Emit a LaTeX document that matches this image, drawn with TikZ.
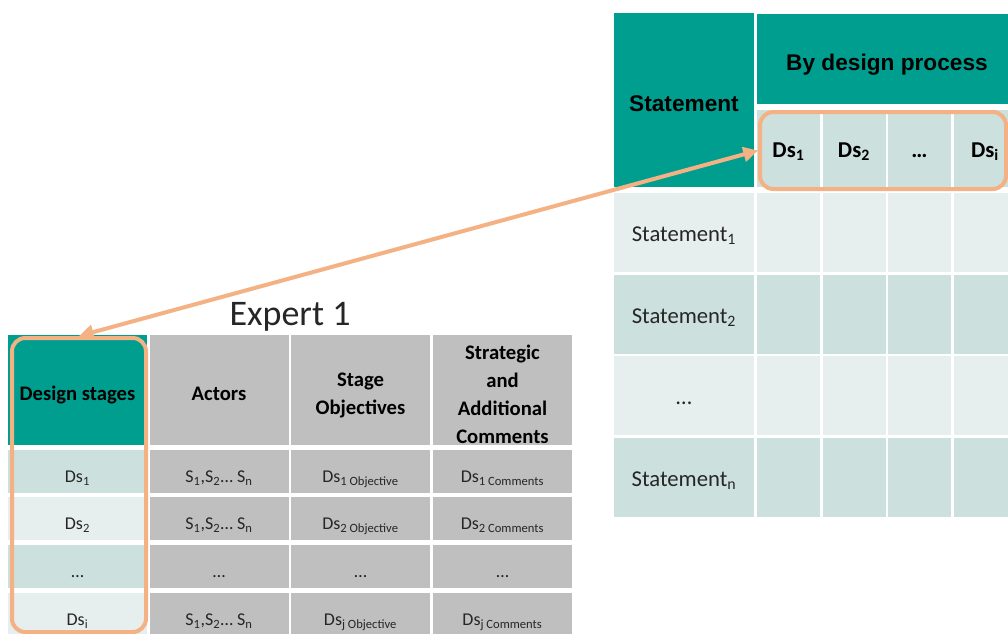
\documentclass[tikz,border=0pt]{standalone}
\usepackage{fontspec}
\setmainfont{Carlito}
\newfontfamily\headfont{Liberation Sans}
\usetikzlibrary{arrows.meta}

\definecolor{hdteal}{RGB}{0,158,143}
\definecolor{rowdark}{RGB}{204,224,221}
\definecolor{rowlight}{RGB}{230,239,237}
\definecolor{cellgray}{RGB}{191,191,191}
\definecolor{frameorange}{RGB}{244,177,131}
\definecolor{txtgray}{RGB}{38,38,38}

\newcommand{\actlist}{S\textsubscript{1},S\textsubscript{2}… S\textsubscript{n}}

\tikzset{
  cell/.style={rectangle, inner sep=0pt, align=center, text=txtgray},
  sz/.style 2 args={minimum width=#1*0.75pt, minimum height=#2*0.75pt},
  low/.style={text height=#1, text depth=0pt},
  bigtxt/.style={font=\fontsize{17}{20}\selectfont},
  smalltxt/.style={font=\fontsize{13.5}{16}\selectfont, low=17pt},
  headtxt/.style={font=\bfseries\fontsize{15.5}{21}\selectfont, text=black},
  frame/.style={draw=frameorange, line width=3pt, rounded corners=10pt, inner sep=0pt},
  link/.style={draw=frameorange, line width=3pt, {Triangle[length=11pt,width=11pt]}-{Triangle[length=11pt,width=11pt]}}
}

\begin{document}
\begin{tikzpicture}[x=0.75pt, y=-0.75pt]
  \useasboundingbox (0,0) rectangle (1008,633);
  \begin{scope}
  \clip (0,0) rectangle (1008,633);

  \node[cell, fill=hdteal, sz={140}{174}, bigtxt, text=black, low=17.5pt] (sthead) at (684,100) {\headfont\bfseries Statement};
  \node[cell, fill=hdteal, sz={260}{90}, bigtxt, text=black, low=16.5pt] (byhead) at (887,59) {\headfont\bfseries By design process};

  \foreach \x/\lab [count=\i] in {788.5/Ds\textsubscript{1}, 854/Ds\textsubscript{2}, 919.5/…, 985/Ds\textsubscript{i}}
    \node[cell, fill=rowdark, sz={63}{77}, bigtxt, text=black, low=12.75pt] (ds\i) at (\x,148.5) {\bfseries \lab};

  \foreach \y/\fc/\lab [count=\r] in {232.5/rowlight/Statement\textsubscript{1},
                                      314/rowdark/Statement\textsubscript{2},
                                      395/rowlight/…,
                                      477.5/rowdark/Statement\textsubscript{n}} {
    \node[cell, fill=\fc, sz={140}{79}, bigtxt, low=13.5pt] (st\r) at (684,\y) {\lab};
    \foreach \x [count=\i] in {788.5,854,919.5,985}
      \node[cell, fill=\fc, sz={63}{79}] (st\r-\i) at (\x,\y) {};
  }

  \node[font=\fontsize{27}{32}\selectfont, text=txtgray, anchor=base] (expert) at (290,325) {Expert 1};

  \node[cell, fill=hdteal, sz={139}{110}, headtxt, low=15pt] (dshead) at (77.5,390) {Design stages};
  \node[cell, fill=cellgray, sz={139}{110}, headtxt, low=15pt] (acthead) at (219,390) {Actors};
  \node[cell, fill=cellgray, sz={139}{110}, headtxt] (objhead) at (360.5,390) {\rule{0pt}{18.5pt}Stage\\Objectives};
  \node[cell, fill=cellgray, sz={139}{110}, headtxt] (comhead) at (502.5,390) {\rule{0pt}{17pt}Strategic\\and\\Additional\\Comments};

  \foreach \y/\fc/\ds/\act/\obj/\com [count=\r] in {
      471.5/rowdark/Ds\textsubscript{1}/\actlist/Ds\textsubscript{1 Objective}/Ds\textsubscript{1 Comments},
      518.5/rowlight/Ds\textsubscript{2}/\actlist/Ds\textsubscript{2 Objective}/Ds\textsubscript{2 Comments},
      566/rowdark/…/…/…/…,
      614/rowlight/Ds\textsubscript{i}/\actlist/Ds\textsubscript{j Objective}/Ds\textsubscript{j Comments}} {
    \node[cell, fill=\fc, sz={139}{43}, smalltxt] (dsr\r) at (77.5,\y) {\ds};
    \node[cell, fill=cellgray, sz={139}{43}, smalltxt] (actr\r) at (219,\y) {\act};
    \node[cell, fill=cellgray, sz={139}{43}, smalltxt] (objr\r) at (360.5,\y) {\obj};
    \node[cell, fill=cellgray, sz={139}{43}, smalltxt] (comr\r) at (502.5,\y) {\com};
  }

  \node[frame, sz={134}{294}] (dsframe) at (79,485) {};
  \node[frame, sz={246}{77}] (dsrowframe) at (883,150.5) {};

  \draw[link] (dsframe.north) -- (dsrowframe.west);
  \end{scope}
\end{tikzpicture}
\end{document}
